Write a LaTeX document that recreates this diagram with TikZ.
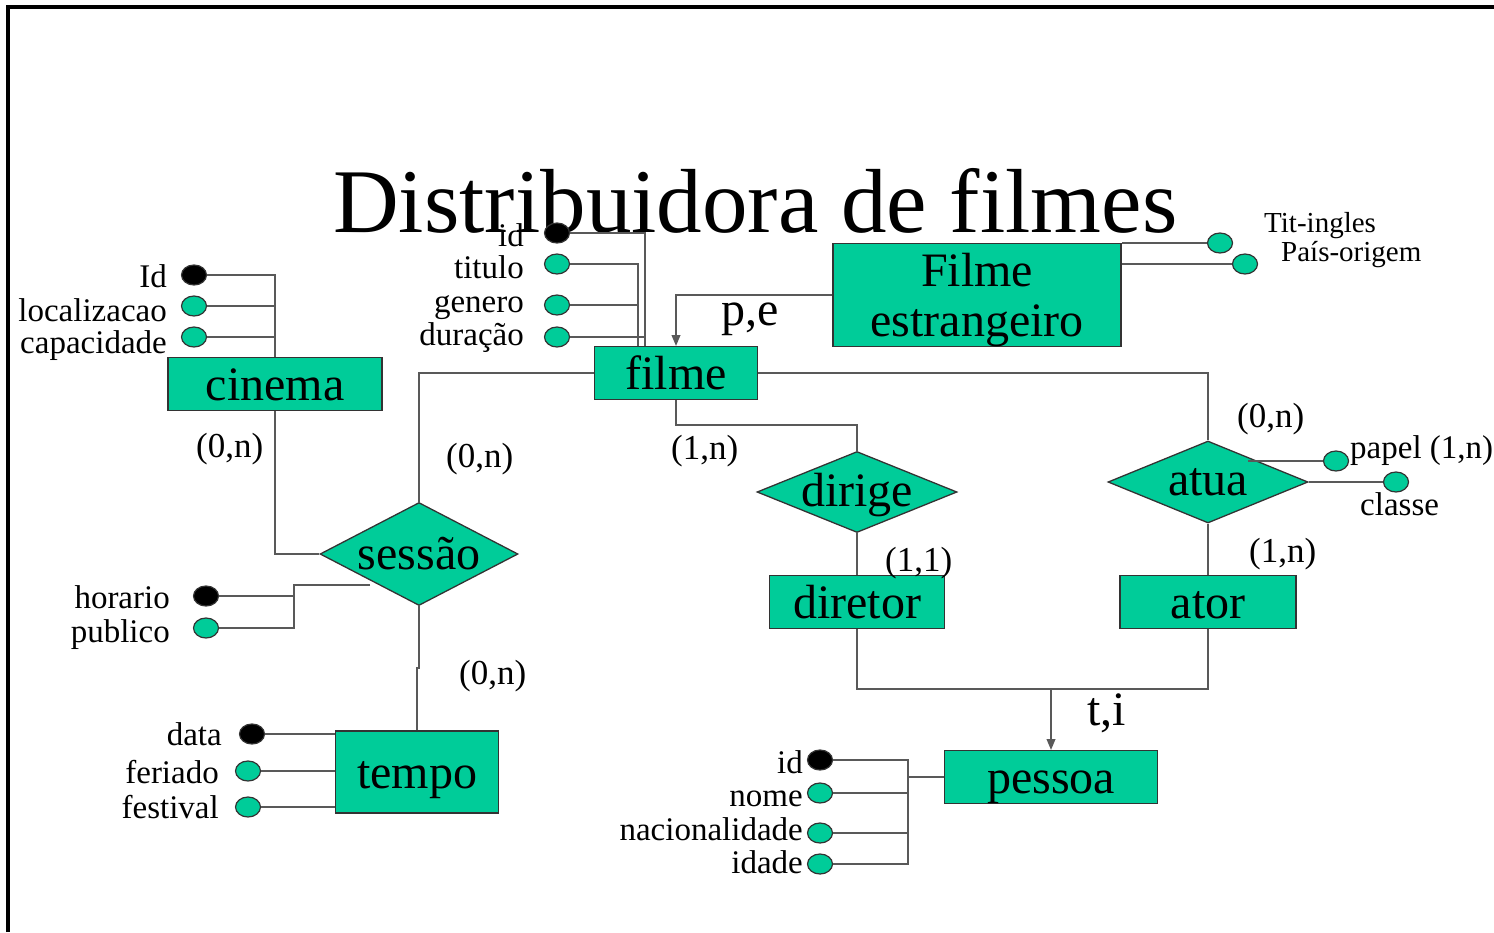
\documentclass[tikz,border=0pt]{standalone}
\usepackage{fontspec}
\setmainfont{Liberation Serif}
\usetikzlibrary{shapes.geometric, arrows, positioning}
\definecolor{ergreen}{RGB}{0,204,153}
\newcommand\titlefont{\fontsize{91}{95}\selectfont}
\newcommand\entfont{\fontsize{48}{50}\selectfont}
\newcommand\attrfont{\fontsize{33}{36}\selectfont}
\newcommand\smallfont{\fontsize{29}{32}\selectfont}
\newcommand\cardfont{\fontsize{35}{38}\selectfont}
\tikzstyle{entity} = [
    rectangle,
    draw=black!80,
    fill=ergreen,
    line width=1.3pt,
    inner sep=0pt,
    text height=43pt,
    text depth=10pt,
    font=\entfont
]
\tikzstyle{relation} = [
    diamond,
    draw=black!80,
    fill=ergreen,
    line width=1.3pt,
    inner sep=0pt,
    font=\entfont
]
\tikzstyle{attrib} = [
    ellipse,
    draw=black!80,
    fill=ergreen,
    line width=1.2pt,
    minimum width=25pt,
    minimum height=20pt,
    inner sep=0pt
]
\tikzstyle{keyattrib} = [attrib, fill=black]
\tikzstyle{attrname} = [inner sep=0pt, font=\attrfont]
\tikzstyle{card} = [inner sep=0pt, font=\cardfont]
\tikzstyle{link} = [draw=black!65, line width=1.5pt]
\tikzstyle{arrow} = [link, ->, >=triangle 45]

\begin{document}
\begin{tikzpicture}[x=1pt, y=-1pt]
\useasboundingbox (0,0) rectangle (1494,932);

% frame and title
\draw[line width=4pt] (8,932) -- (8,7) -- (1494,7);
\node (title) [anchor=base west, inner sep=0pt, font=\titlefont] at (333,232)
{Distribuidora de filmes};

% entities
\node (cinema) [entity, minimum width=214pt, minimum height=51pt] at (275,384) {cinema};
\node (filme) [entity, minimum width=163pt, minimum height=51pt] at (676,373) {filme};
\node (estrang) [entity, minimum width=288pt, minimum height=103pt, align=center,
    text height=93pt, text depth=10pt] at (977,295)
{Filme\\estrangeiro};
\node (diretor) [entity, minimum width=175pt, minimum height=52pt] at (857,602) {diretor};
\node (ator) [entity, minimum width=176pt, minimum height=52pt] at (1208,602) {ator};
\node (pessoa) [entity, minimum width=213pt, minimum height=52pt] at (1051,777) {pessoa};
\node (tempo) [entity, minimum width=163pt, minimum height=82pt] at (417,772) {tempo};

% relationships
\node (sessao) [relation, aspect=1.92, minimum width=198pt, minimum height=103pt] at (419,554) {sessão};
\node (dirige) [relation, aspect=2.47, minimum width=200pt, minimum height=81pt,
    text height=30pt, text depth=2pt] at (857,492) {dirige};
\node (atua) [relation, aspect=2.44, minimum width=200pt, minimum height=82pt] at (1208,482) {atua};

% attributes of cinema
\node (cinid) [keyattrib] at (194,275) {};
\node (cinloc) [attrib] at (194,306) {};
\node (cincap) [attrib] at (194,337) {};
\node (cinidtxt) [attrname, anchor=base east] at (167,287) {Id};
\node (cinloctxt) [attrname, anchor=base east] at (167,321) {localizacao};
\node (cincaptxt) [attrname, anchor=base east] at (167,353) {capacidade};
\coordinate (cinj) at (275,275);
\draw [link] (cinid) -- (cinj) -- (cinema.north);
\draw [link] (cinloc) -- (cinloc -| cinj);
\draw [link] (cincap) -- (cincap -| cinj);

% attributes of filme
\node (filid) [keyattrib] at (557,233) {};
\node (filtit) [attrib] at (557,264) {};
\node (filgen) [attrib] at (557,305) {};
\node (fildur) [attrib] at (557,337) {};
\node (filidtxt) [attrname, anchor=base east] at (524,246) {id};
\node (filtittxt) [attrname, anchor=base east] at (524,278) {titulo};
\node (filgentxt) [attrname, anchor=base east] at (524,312) {genero};
\node (fildurtxt) [attrname, anchor=base east] at (524,345) {duração};
\coordinate (filja) at (645,233);
\coordinate (filjb) at (638,264);
\draw [link] (filid) -- (filja) -- (filja |- filme.north);
\draw [link] (filtit) -- (filjb) -- (filjb |- filme.north);
\draw [link] (filgen) -- (filgen -| filjb);
\draw [link] (fildur) -- (fildur -| filja);

% attributes of Filme estrangeiro
\node (esttit) [attrib] at (1220,243) {};
\node (estpais) [attrib] at (1245,264) {};
\node (esttittxt) [inner sep=0pt, font=\smallfont, anchor=base west] at (1264,232) {Tit-ingles};
\node (estpaistxt) [inner sep=0pt, font=\smallfont, anchor=base west] at (1281,261) {País-origem};
\draw [link] (esttit) -- (esttit -| estrang.east);
\draw [link] (estpais) -- (estpais -| estrang.east);

% attributes of atua
\node (atpap) [attrib] at (1336,461) {};
\node (atcla) [attrib] at (1396,482) {};
\node (atpaptxt) [attrname, anchor=base west] at (1350,458) {papel (1,n)};
\node (atclatxt) [attrname, anchor=base west] at (1360,515) {classe};
\coordinate (atpapj) at (1248,461);
\draw [link] (atpapj) -- (atpap);
\draw [link] (atua.east) -- (atcla);

% attributes of sessao
\node (seshor) [keyattrib] at (206,596) {};
\node (sespub) [attrib] at (206,628) {};
\node (seshortxt) [attrname, anchor=base east] at (170,608) {horario};
\node (sespubtxt) [attrname, anchor=base east] at (170,642) {publico};
\coordinate (sesj) at (294,585);
\coordinate (sesk) at (370,585);
\draw [link] (sesk) -- (sesj) -- (sesj |- sespub) -- (sespub);
\draw [link] (seshor) -- (seshor -| sesj);

% attributes of tempo
\node (tmpdat) [keyattrib] at (252,734) {};
\node (tmpfer) [attrib] at (248,771) {};
\node (tmpfes) [attrib] at (248,807) {};
\node (tmpdattxt) [attrname, anchor=base east] at (222,745) {data};
\node (tmpfertxt) [attrname, anchor=base east] at (219,783) {feriado};
\node (tmpfestxt) [attrname, anchor=base east] at (219,818) {festival};
\draw [link] (tmpdat) -- (tmpdat -| tempo.west);
\draw [link] (tmpfer) -- (tmpfer -| tempo.west);
\draw [link] (tmpfes) -- (tmpfes -| tempo.west);

% attributes of pessoa
\node (pesid) [keyattrib] at (820,760) {};
\node (pesnom) [attrib] at (820,793) {};
\node (pesnac) [attrib] at (820,833) {};
\node (pesida) [attrib] at (820,864) {};
\node (pesidtxt) [attrname, anchor=base east] at (803,773) {id};
\node (pesnomtxt) [attrname, anchor=base east] at (803,806) {nome};
\node (pesnactxt) [attrname, anchor=base east] at (803,840) {nacionalidade};
\node (pesidatxt) [attrname, anchor=base east] at (803,873) {idade};
\coordinate (pesj) at (908,777);
\draw [link] (pessoa.west) -- (pesj);
\draw [link] (pesid) -- (pesid -| pesj) -- (pesida -| pesj) -- (pesida);
\draw [link] (pesnom) -- (pesnom -| pesj);
\draw [link] (pesnac) -- (pesnac -| pesj);

% relationship lines
\coordinate (dirj) at (857,425);
\coordinate (sesjog) at (419,668);
\coordinate (isaj) at (1051,689);
\draw [link] (cinema.south) |- (sessao.west);
\draw [link] (filme.west) -| (sessao.north);
\draw [link] (sessao.south) -- (sesjog) -| (tempo.north);
\draw [link] (filme.south) |- (dirj) -- (dirige.north);
\draw [link] (filme.east) -| (atua.north);
\draw [link] (dirige.south) -- (diretor.north);
\draw [link] (atua.south) -- (ator.north);
\draw [link] (diretor.south) |- (isaj) -| (ator.south);
\draw [arrow] (isaj) -- (pessoa.north);
\draw [arrow] (estrang.west) -| (filme.north);

% cardinalities
\node (cardcin) [card, anchor=base west] at (196,457) {(0,n)};
\node (cardfil) [card, anchor=base west] at (446,467) {(0,n)};
\node (cardtmp) [card, anchor=base west] at (459,684) {(0,n)};
\node (carddir) [card, anchor=base west] at (671,459) {(1,n)};
\node (carddtr) [card, anchor=base west] at (885,571) {(1,1)};
\node (cardatu) [card, anchor=base west] at (1237,427) {(0,n)};
\node (cardatr) [card, anchor=base west] at (1249,562) {(1,n)};
\node (genpe) [inner sep=0pt, font=\entfont, anchor=base west] at (721,325) {p,e};
\node (genti) [inner sep=0pt, font=\entfont, anchor=base west] at (1087,725) {t,i};

\end{tikzpicture}
\end{document}
